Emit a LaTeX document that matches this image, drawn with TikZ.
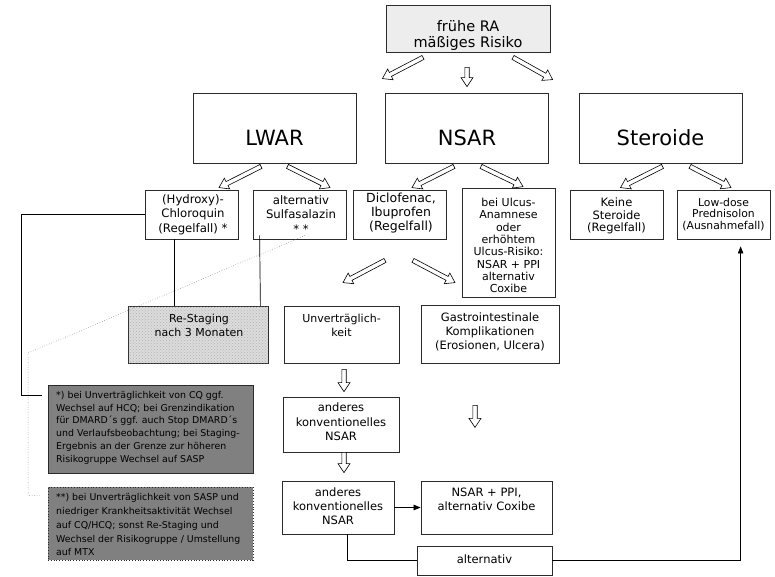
\documentclass[tikz,border=0pt]{standalone}
\usepackage{fontspec}
\setmainfont{DejaVu Sans}
\usetikzlibrary{calc,arrows.meta,patterns}

\definecolor{edge}{HTML}{2B2B2B}
\definecolor{topfill}{HTML}{EDEDED}
\definecolor{notefill}{HTML}{808080}
\definecolor{stagefill}{HTML}{DCDCDC}

% text nodes are placed by the baseline of their last line
\tikzset{
  box/.style={draw=edge, line width=0.8pt, fill=white, inner sep=0pt},
  txt/.style={align=center, inner sep=0pt, anchor=base},
  note/.style={align=left, inner sep=0pt, anchor=base west},
  link/.style={draw=black, line width=0.7pt},
  dotlink/.style={draw=black!60, line width=0.5pt, dotted},
  hollow/.style={draw=black, line width=0.6pt, fill=white, line join=miter},
  tip/.style={-{Triangle[length=7pt,width=5.5pt]}},
}

% outlined block arrow from #1 to #2
\newcommand\hollowarrow[2]{%
  \coordinate (ha-h) at ($(#2)!9pt!(#1)$);
  \filldraw[hollow] ($(#1)!2.2pt!90:(#2)$) -- ($(ha-h)!2.2pt!-90:(#1)$)
    -- ($(ha-h)!6pt!-90:(#1)$) -- (#2) -- ($(ha-h)!6pt!90:(#1)$)
    -- ($(ha-h)!2.2pt!90:(#1)$) -- ($(#1)!2.2pt!-90:(#2)$) -- cycle;}

\begin{document}
\begin{tikzpicture}[x=1pt,y=-1pt]
\useasboundingbox (0,0) rectangle (775,576);

% ---- top ----
\node[box, fill=topfill, minimum width=164, minimum height=47] (top) at (468,28.5) {};
\node[txt, font=\fontsize{14.5}{15.5}\selectfont] (top-t) at (468,47) {frühe RA\\mäßiges Risiko};

% ---- groups ----
\node[box, minimum width=163, minimum height=70] (lwar) at (274.5,128) {};
\node[box, minimum width=163, minimum height=70] (nsar) at (467,128) {};
\node[box, minimum width=163, minimum height=70] (ster) at (660.5,128) {};
\node[txt, font=\fontsize{21}{24}\selectfont] (lwar-t) at (274.5,145) {LWAR};
\node[txt, font=\fontsize{21}{24}\selectfont] (nsar-t) at (467,145) {NSAR};
\node[txt, font=\fontsize{21}{24}\selectfont] (ster-t) at (660.5,145) {Steroide};

% ---- therapy options ----
\node[box, minimum width=93, minimum height=49] (chloro) at (191.5,214.5) {};
\node[txt, font=\fontsize{11.7}{14.5}\selectfont] (chloro-t) at (193,232) {(Hydroxy)-\\Chloroquin\\(Regelfall) *};
\node[box, minimum width=93, minimum height=49] (sulfa) at (299.5,214.5) {};
\node[txt, font=\fontsize{11.7}{14.5}\selectfont] (sulfa-t) at (301,233) {alternativ\\Sulfasalazin\\* *};
\node[box, minimum width=93, minimum height=49] (diclo) at (399.5,214.5) {};
\node[txt, font=\fontsize{12.5}{14}\selectfont] (diclo-t) at (401,230) {Diclofenac,\\Ibuprofen\\(Regelfall)};
\node[box, minimum width=93, minimum height=109] (ulcus) at (508.5,242.5) {};
\node[txt, font=\fontsize{11}{12.3}\selectfont] (ulcus-t) at (508.5,292.6) {bei Ulcus-\\Anamnese\\oder\\erhöhtem\\Ulcus-Risiko:\\NSAR + PPI\\alternativ\\Coxibe};
\node[box, minimum width=93, minimum height=49] (keine) at (616.5,214.5) {};
\node[txt, font=\fontsize{11.5}{12.5}\selectfont] (keine-t) at (616.5,231.5) {Keine\\Steroide\\(Regelfall)};
\node[box, minimum width=93, minimum height=49] (lowdose) at (723.5,214.5) {};
\node[txt, font=\fontsize{10.8}{11.7}\selectfont] (lowdose-t) at (723.5,229.4) {Low-dose\\Prednisolon\\(Ausnahmefall)};

% ---- follow-up ----
\node[box, fill=stagefill, postaction={pattern=crosshatch dots, pattern color=black!30}, minimum width=140, minimum height=57] (restag) at (198,334.5) {};
\node[txt, font=\fontsize{11}{13.5}\selectfont] (restag-t) at (199,336) {Re-Staging\\nach 3 Monaten};
\node[box, minimum width=115, minimum height=57] (unvert) at (341.5,334.5) {};
\node[txt, font=\fontsize{11}{13.5}\selectfont] (unvert-t) at (341.5,336) {Unverträglich-\\keit};
\node[box, minimum width=138, minimum height=58] (gastro) at (490,334) {};
\node[txt, font=\fontsize{11.5}{14.2}\selectfont] (gastro-t) at (490,349.9) {Gastrointestinale\\Komplikationen\\(Erosionen, Ulcera)};
\node[box, minimum width=116, minimum height=55] (and1) at (341,424.5) {};
\node[txt, font=\fontsize{11.5}{14.5}\selectfont] (and1-t) at (341,440.5) {anderes\\konventionelles\\NSAR};
\node[box, minimum width=112, minimum height=53] (and2) at (338,507.5) {};
\node[txt, font=\fontsize{11.5}{14.2}\selectfont] (and2-t) at (338,524.4) {anderes\\konventionelles\\NSAR};
\node[box, minimum width=131, minimum height=53] (ppi) at (486.5,507.5) {};
\node[txt, font=\fontsize{11.5}{14}\selectfont] (ppi-t) at (486.5,510) {NSAR + PPI,\\alternativ Coxibe};
\node[box, minimum width=135, minimum height=29] (alt) at (484.5,560.5) {};
\node[txt, font=\fontsize{11.5}{14}\selectfont] (alt-t) at (484.5,563) {alternativ};

% ---- footnotes ----
\node[box, fill=notefill, minimum width=205, minimum height=88] (fn1) at (150.5,429) {};
\node[note, font=\fontsize{9.4}{12.8}\selectfont] (fn1-t) at (56,462.3) {*) bei Unverträglichkeit von CQ ggf.\\Wechsel auf HCQ; bei Grenzindikation\\für DMARD´s ggf. auch Stop DMARD´s\\und Verlaufsbeobachtung; bei Staging-\\Ergebnis an der Grenze zur höheren\\Risikogruppe Wechsel auf SASP};
\node[box, fill=notefill, dotted, minimum width=205, minimum height=73] (fn2) at (150.5,523.5) {};
\node[note, font=\fontsize{9.4}{13.8}\selectfont] (fn2-t) at (56,555.9) {**) bei Unverträglichkeit von SASP und\\niedriger Krankheitsaktivität Wechsel\\auf CQ/HCQ; sonst Re-Staging und\\Wechsel der Risikogruppe / Umstellung\\auf MTX};

% ---- block arrows ----
\coordinate (a1s) at ($(top.south)+(-45,5)$);   \coordinate (a1e) at ($(lwar.north east)+(26,-14)$);
\coordinate (a2s) at ($(top.south)+(-1,15)$);   \coordinate (a2e) at ($(nsar.north)+(0,-6)$);
\coordinate (a3s) at ($(top.south)+(45,5)$);    \coordinate (a3e) at ($(ster.north west)+(-26,-13)$);
\coordinate (b1s) at ($(lwar.south)+(-13.5,3)$); \coordinate (b1e) at ($(chloro.north)+(27.5,-2)$);
\coordinate (b2s) at ($(lwar.south)+(13,3)$);    \coordinate (b2e) at ($(sulfa.north)+(30.5,-2)$);
\coordinate (b3s) at ($(nsar.south)+(-13,3)$);   \coordinate (b3e) at ($(diclo.north)+(12.5,-2)$);
\coordinate (b4s) at ($(nsar.south)+(14,3)$);    \coordinate (b4e) at ($(ulcus.north)+(14.5,-1)$);
\coordinate (b5s) at ($(ster.south)+(2,3)$);     \coordinate (b5e) at ($(keine.north)+(4,-2)$);
\coordinate (b6s) at ($(ster.south)+(29.5,3)$);  \coordinate (b6e) at ($(lowdose.north)+(7.5,-2)$);
\coordinate (c1s) at ($(diclo.south)+(-14.5,21)$); \coordinate (c1e) at ($(unvert.north)+(1.5,-23)$);
\coordinate (c2s) at ($(diclo.south)+(13.5,21)$);  \coordinate (c2e) at ($(gastro.north)+(-35,-22)$);
\coordinate (d1s) at ($(unvert.south)+(2.5,6)$);   \coordinate (d1e) at ($(and1.north)+(3,-5)$);
\coordinate (d2s) at ($(gastro.south)+(-15,42)$);  \coordinate (d2e) at ($(gastro.south)+(-15,64)$);
\coordinate (d3s) at ($(and1.south)+(3,0)$);       \coordinate (d3e) at ($(and2.north)+(6,-8)$);

\hollowarrow{a1s}{a1e}
\hollowarrow{a2s}{a2e}
\hollowarrow{a3s}{a3e}
\hollowarrow{b1s}{b1e}
\hollowarrow{b2s}{b2e}
\hollowarrow{b3s}{b3e}
\hollowarrow{b4s}{b4e}
\hollowarrow{b5s}{b5e}
\hollowarrow{b6s}{b6e}
\hollowarrow{c1s}{c1e}
\hollowarrow{c2s}{c2e}
\hollowarrow{d1s}{d1e}
\hollowarrow{d2s}{d2e}
\hollowarrow{d3s}{d3e}

% ---- plain connectors ----
\coordinate (n1in) at ($(fn1.north west)+(-6,11)$);
\draw[link] (chloro.west) -- ++(-123,0) |- (n1in);
\draw[link] ($(chloro.south west)+(30,0)$) -- ($(restag.north west)+(47,0)$);
\draw[link] ($(sulfa.south west)+(7,-4)$) -- ($(restag.north east)+(-8,0)$);

\coordinate (dbend) at (28,353);
\coordinate (n2in) at ($(fn2.north west)+(-8,9)$);
\draw[dotlink] ($(sulfa.south)+(5.5,-4)$) -- (dbend) |- (n2in);

\draw[link,tip] (and2.east) -- (ppi.west);
\draw[link] ($(and2.south west)+(66,0)$) |- (alt.west);
\draw[link,tip] (alt.east) -| ($(lowdose.south west)+(64,7)$);
\end{tikzpicture}
\end{document}
